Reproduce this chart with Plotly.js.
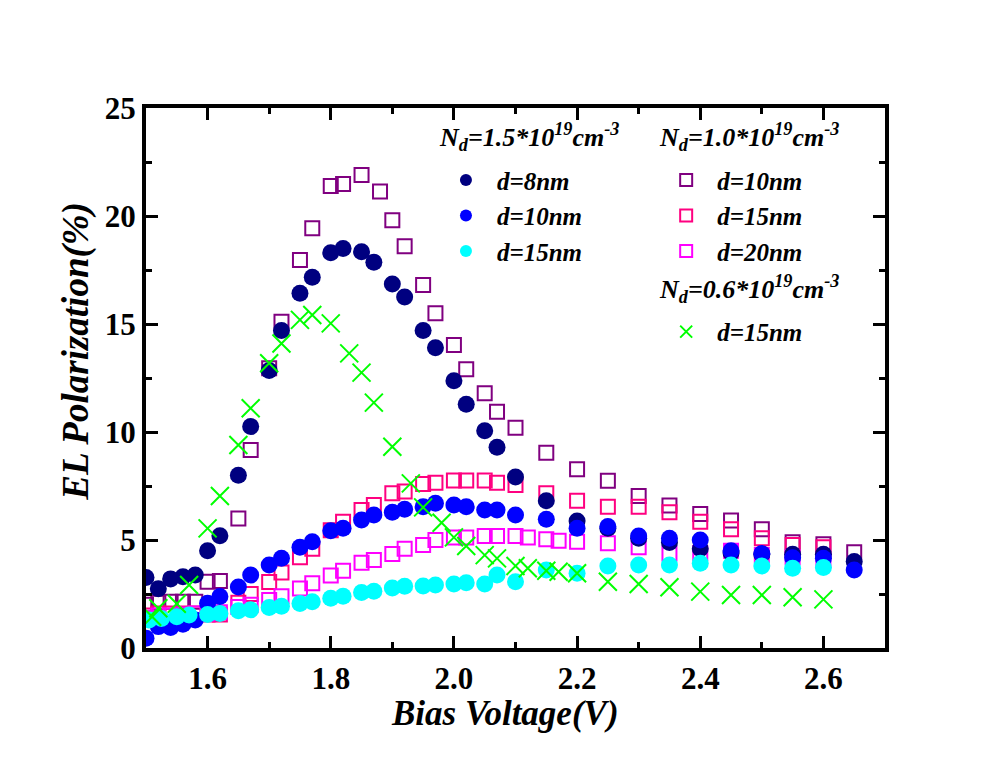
<!DOCTYPE html>
<html>
<head>
<meta charset="utf-8">
<script src="https://cdn.plot.ly/plotly-3.0.1.min.js"></script>
<style>html,body{margin:0;padding:0;background:#fff;}</style>
</head>
<body>
<div id="chart" style="width:988px;height:783px;"></div>
<script>
// Nd = 1.5e19
const xNavy = [1.50,1.52,1.54,1.56,1.58,1.60,1.62,1.65,1.67,1.70,1.72,1.75,1.77,1.80,1.82,1.85,1.87,1.90,1.92,1.95,1.97,2.00,2.02,2.05,2.07,2.10,2.15,2.20,2.25,2.30,2.35,2.40,2.45,2.50,2.55,2.60,2.65];
const yNavy = [3.26,2.74,3.2,3.3,3.38,4.5,5.2,8.0,10.25,12.85,14.7,16.42,17.16,18.3,18.5,18.35,17.86,16.85,16.25,14.7,13.9,12.37,11.28,10.06,9.29,7.92,6.82,5.88,5.54,5.08,4.88,4.6,4.4,4.34,4.34,4.34,4.0];
const xBlue = [1.50,1.52,1.54,1.56,1.58,1.60,1.62,1.65,1.67,1.70,1.72,1.75,1.77,1.80,1.82,1.85,1.87,1.90,1.92,1.95,1.97,2.00,2.02,2.05,2.07,2.10,2.15,2.20,2.25,2.30,2.35,2.40,2.45,2.50,2.55,2.60,2.65];
const yBlue = [0.45,0.99,0.95,1.1,1.3,2.07,2.38,2.82,3.38,3.84,4.15,4.66,4.92,5.43,5.54,5.93,6.16,6.29,6.42,6.54,6.7,6.62,6.54,6.39,6.39,6.16,5.96,5.54,5.62,5.19,5.08,5.0,4.5,4.38,4.18,4.15,3.61];
const xCyan = [1.505,1.525,1.55,1.57,1.60,1.62,1.65,1.67,1.70,1.72,1.75,1.77,1.80,1.82,1.85,1.87,1.90,1.92,1.95,1.97,2.00,2.02,2.05,2.07,2.10,2.15,2.20,2.25,2.30,2.35,2.40,2.45,2.50,2.55,2.60];
const yCyan = [1.3,1.37,1.45,1.53,1.55,1.6,1.72,1.77,1.87,1.93,2.06,2.14,2.3,2.4,2.57,2.63,2.78,2.86,2.87,2.92,2.96,3.02,2.96,3.38,3.07,3.61,3.46,3.8,3.84,3.84,3.92,3.84,3.8,3.69,3.73];
// Nd = 1.0e19
const xPurple = [1.50,1.52,1.54,1.56,1.58,1.60,1.62,1.65,1.67,1.70,1.72,1.75,1.77,1.80,1.82,1.85,1.88,1.90,1.92,1.95,1.97,2.00,2.02,2.05,2.07,2.10,2.15,2.20,2.25,2.30,2.35,2.40,2.45,2.50,2.55,2.60,2.65];
const yPurple = [2.0,2.1,2.14,2.14,2.14,3.07,3.1,6.0,9.17,12.95,15.1,17.96,19.43,21.39,21.48,21.9,21.13,19.8,18.6,16.8,15.5,14.03,12.9,11.79,10.94,10.2,9.04,8.27,7.74,7.04,6.6,6.2,5.9,5.5,4.9,4.8,4.43];
const xPink = [1.50,1.52,1.54,1.56,1.58,1.60,1.62,1.65,1.67,1.70,1.72,1.75,1.77,1.80,1.82,1.85,1.87,1.90,1.92,1.95,1.97,2.00,2.02,2.05,2.07,2.10,2.15,2.20,2.25,2.30,2.35,2.40,2.45,2.50,2.55,2.60];
const yPink = [1.5,1.6,1.6,1.6,1.6,1.55,1.55,2.1,2.5,3.05,3.5,4.2,4.6,5.45,5.85,6.39,6.62,7.16,7.24,7.59,7.65,7.75,7.75,7.75,7.65,7.55,7.16,6.82,6.54,6.54,6.29,5.85,5.5,5.08,4.77,4.66];
const xMagenta = [1.50,1.52,1.54,1.56,1.58,1.60,1.62,1.65,1.67,1.70,1.72,1.75,1.77,1.80,1.82,1.85,1.87,1.90,1.92,1.95,1.97,2.00,2.02,2.05,2.07,2.10,2.12,2.15,2.17,2.20,2.25,2.30,2.35,2.40,2.45,2.50,2.55,2.60];
const yMagenta = [1.4,1.5,1.5,1.55,1.6,1.6,1.65,1.9,2.0,2.22,2.4,2.76,3.0,3.36,3.58,3.95,4.07,4.35,4.6,4.77,5.0,5.12,5.12,5.19,5.19,5.19,5.12,5.03,4.97,4.92,4.85,4.66,4.38,4.4,4.5,4.3,4.2,4.05];
// Nd = 0.6e19
const xGreen = [1.51,1.52,1.55,1.57,1.60,1.62,1.65,1.67,1.70,1.72,1.75,1.77,1.80,1.83,1.85,1.87,1.90,1.93,1.95,1.98,2.00,2.02,2.05,2.07,2.10,2.12,2.15,2.17,2.20,2.25,2.30,2.35,2.40,2.45,2.50,2.55,2.60];
const yGreen = [1.45,1.84,2.05,2.92,5.54,7.04,9.4,11.1,13.18,14.1,15.19,15.42,15.03,13.64,12.75,11.36,9.32,7.62,6.51,5.8,5.12,4.72,4.3,4.15,3.8,3.69,3.58,3.53,3.46,3.07,2.96,2.81,2.61,2.45,2.45,2.35,2.25];

const groupTitles = [
  "N<sub>d</sub>=1.5*10<sup>19</sup>cm<sup>-3</sup>",
  "N<sub>d</sub>=1.0*10<sup>19</sup>cm<sup>-3</sup>",
  "N<sub>d</sub>=0.6*10<sup>19</sup>cm<sup>-3</sup>"
];

const SERIF = "Liberation Serif, Times New Roman, serif";
const legFont = {family: SERIF, size: 25, color: "#000", weight: "bold", style: "italic"};
const titleFont = {family: SERIF, size: 26, color: "#000", weight: "bold", style: "italic"};

function sq(x, y, name, color, leg) {
  return {x: x, y: y, name: name, type: "scatter", mode: "markers", legend: leg,
    marker: {symbol: "square-open", size: 14, color: color, line: {width: 2, color: color}}};
}
function circ(x, y, name, color, leg) {
  return {x: x, y: y, name: name, type: "scatter", mode: "markers", legend: leg,
    marker: {symbol: "circle", size: 17, color: color, line: {width: 0}}};
}

const traces = [
  sq(xPurple, yPurple, "d=10nm", "#800080", "legend2"),
  sq(xPink, yPink, "d=15nm", "#FF0080", "legend2"),
  sq(xMagenta, yMagenta, "d=20nm", "#FF00FF", "legend2"),
  circ(xNavy, yNavy, "d=8nm", "#000080", "legend"),
  circ(xBlue, yBlue, "d=10nm", "#0000FF", "legend"),
  circ(xCyan, yCyan, "d=15nm", "#00FFFF", "legend"),
  {x: xGreen, y: yGreen, name: "d=15nm", type: "scatter", mode: "markers", legend: "legend3",
    marker: {symbol: "x-thin-open", size: 18, color: "#00FF00", line: {width: 2, color: "#00FF00"}}}
];

const axisCommon = {
  showline: true, linecolor: "#000", linewidth: 4, mirror: "ticks",
  ticks: "inside", ticklen: 12, tickwidth: 3, tickcolor: "#000",
  showgrid: false, zeroline: false,
  tickfont: {family: SERIF, size: 31, color: "#000", weight: "bold"}
};

function legendBox(x, y) {
  return {x: x, y: y, xanchor: "left", yanchor: "top", bgcolor: "rgba(0,0,0,0)",
    borderwidth: 0, font: legFont, itemsizing: "constant", itemwidth: 52,
    tracegroupgap: 0};
}
function groupTitle(text, x, y) {
  return {text: text, xref: "paper", yref: "paper", x: x, y: y,
    xanchor: "left", yanchor: "middle", showarrow: false, font: titleFont};
}

const layout = {
  width: 988, height: 783,
  margin: {l: 146, r: 103, t: 108, b: 135},
  paper_bgcolor: "#fff", plot_bgcolor: "#fff",
  showlegend: true,
  xaxis: Object.assign({}, axisCommon, {
    range: [1.5, 2.7], tick0: 1.6, dtick: 0.2, tickformat: ".1f",
    minor: {tick0: 1.5, dtick: 0.1, ticks: "inside", ticklen: 6, tickwidth: 3, tickcolor: "#000"}
  }),
  yaxis: Object.assign({}, axisCommon, {
    range: [0, 25], tick0: 0, dtick: 5,
    minor: {tick0: 0, dtick: 2.5, ticks: "inside", ticklen: 6, tickwidth: 3, tickcolor: "#000"}
  }),
  legend: legendBox(0.391, 0.909),
  legend2: legendBox(0.689, 0.909),
  legend3: legendBox(0.689, 0.628),
  annotations: [
    groupTitle(groupTitles[0], 0.394, 0.946),
    groupTitle(groupTitles[1], 0.691, 0.946),
    groupTitle(groupTitles[2], 0.691, 0.664),
    {text: "Bias Voltage(V)", xref: "paper", yref: "paper", x: 0.486, y: -0.122,
     xanchor: "center", yanchor: "middle", showarrow: false,
     font: {family: SERIF, size: 35, color: "#000", weight: "bold", style: "italic"}},
    {text: "EL Polarization(%)", xref: "paper", yref: "paper", x: -0.095, y: 0.55,
     xanchor: "center", yanchor: "middle", showarrow: false, textangle: -90,
     font: {family: SERIF, size: 37, color: "#000", weight: "bold", style: "italic"}}
  ]
};

Plotly.newPlot("chart", traces, layout, {displayModeBar: false, staticPlot: true});
</script>
</body>
</html>
